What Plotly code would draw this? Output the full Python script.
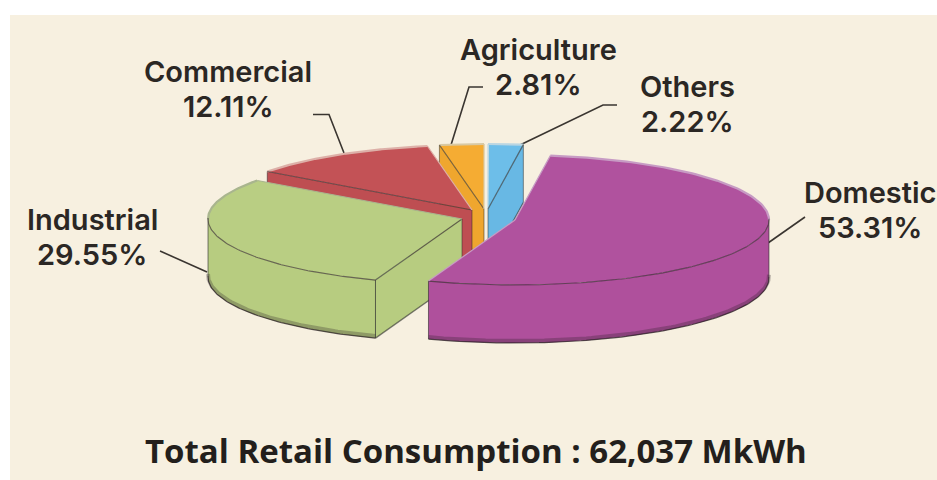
import numpy as np
import plotly.graph_objects as go

# Retail consumption shares, in drawing order around the pie (clockwise)
categories = ["Domestic", "Industrial", "Commercial", "Agriculture", "Others"]
shares = [53.31, 29.55, 12.11, 2.81, 2.22]
share_labels = ["53.31%", "29.55%", "12.11%", "2.81%", "2.22%"]
title_text = "Total Retail Consumption : 62,037 MkWh"

# Styling of each slice
top_colors = ["#B0529E", "#B9CE83", "#C35256", "#F5AC33", "#6DBEE9"]
side_colors = ["#AF509C", "#B7CC80", "#BE4E52", "#EFA62E", "#68B8E4"]
rim_colors = ["#C79BC4", "#A9B58E", "#DDB0A8", "#D8C9A4", "#BBD6E2"]

# Pie projection (an ellipse seen from above), in page pixels
CX, CY, RX, RY, DEPTH = 490, 218, 254, 65, 58
START_DEG = 82
explode = [(25, 2), (-28, 1), (-18, -8), (-6, -9), (-2, -9)]

# Label placement (centre x, centre y of the name line) and leader lines
label_pos = [(870, 192), (92, 219), (228, 71), (538, 49), (687, 86)]
LINE_GAP = 35.5
leaders = [
    [(805, 217), (768, 243)],
    [(160, 251), (207, 272)],
    [(313, 114.5), (329, 114.5), (344, 153)],
    [(483, 87), (469, 87), (451, 145)],
    [(617, 105), (603, 105), (520, 145)],
]

PANEL = "#F7F0E0"
DARK = "#3A3530"
LABEL_FONT = dict(family="Inter, Liberation Sans, sans-serif", size=29, color="#2B2724", weight=600)

fig = go.Figure()


def poly(xs, ys, fill):
    fig.add_trace(go.Scatter(x=xs, y=ys, mode="lines", fill="toself", fillcolor=fill,
                             line=dict(width=0, color=fill), hoverinfo="skip", showlegend=False))


def stroke(xs, ys, color, width):
    fig.add_trace(go.Scatter(x=xs, y=ys, mode="lines", line=dict(color=color, width=width),
                             hoverinfo="skip", showlegend=False))


# Slice angles come directly from the shares
sweeps = np.array(shares) / sum(shares) * 360
ends = START_DEG - np.cumsum(sweeps)
starts = ends + sweeps

for seg in leaders:
    stroke([p[0] for p in seg], [p[1] for p in seg], DARK, 1.6)

# Paint from the back of the pie to the front so nearer slices overlap farther ones
for i in [4, 3, 2, 1, 0]:
    ox, oy = CX + explode[i][0], CY + explode[i][1]
    t = np.radians(np.linspace(starts[i], ends[i], 160))
    ax = ox + RX * np.cos(t)
    ay = oy - RY * np.sin(t)

    # A cut face shows only when it turns towards the viewer
    face_shown = {0: np.cos(t[0]) < -0.02, -1: np.cos(t[-1]) > 0.02}
    for k in (0, -1):
        if face_shown[k]:
            poly([ox, ax[k], ax[k], ox, ox], [oy, ay[k], ay[k] + DEPTH, oy + DEPTH, oy], side_colors[i])
            stroke([ox, ax[k]], [oy + DEPTH, ay[k] + DEPTH], "rgba(40,40,40,0.6)", 1.3)
            stroke([ox, ox], [oy, oy + DEPTH], "rgba(40,40,40,0.5)", 1)
            stroke([ax[k], ax[k]], [ay[k], ay[k] + DEPTH], "rgba(40,40,40,0.5)", 1)

    # Curved outer wall, front half only
    front = np.sin(t) < 0.02
    if front.any():
        fx, fy = ax[front], ay[front]
        poly(np.r_[fx, fx[::-1]], np.r_[fy, fy[::-1] + DEPTH], side_colors[i])
        stroke(fx, fy + DEPTH - 2, "rgba(40,30,35,0.28)", 4)
        stroke(fx, fy + DEPTH, "rgba(40,30,35,0.75)", 1.2)
        for k in (0, -1):
            stroke([fx[k], fx[k]], [fy[k], fy[k] + DEPTH], "rgba(40,40,40,0.6)", 1)

    # Top surface
    poly(np.r_[ox, ax, ox], np.r_[oy, ay, oy], top_colors[i])

    # Rim: pale along the back of the pie, dark along the front
    back = np.sin(t) >= -0.02
    if back.any():
        stroke(ax[back], ay[back], rim_colors[i], 2.2)
    if front.any():
        stroke(ax[front], ay[front], "rgba(50,40,45,0.65)", 1.1)
    for k in (0, -1):
        edge = "rgba(50,50,50,0.65)" if face_shown[k] else rim_colors[i]
        stroke([ox, ax[k]], [oy, ay[k]], edge, 1.2)

for name, pct, (x, y) in zip(categories, share_labels, label_pos):
    for text, ypos in ((name, y), (pct, y + LINE_GAP)):
        fig.add_annotation(x=x, y=ypos, text=text, showarrow=False, xanchor="center",
                           yanchor="middle", font=LABEL_FONT)

fig.add_annotation(x=476, y=450, text=title_text, showarrow=False, xanchor="center", yanchor="middle",
                   font=dict(family="Open Sans, Noto Sans, sans-serif", size=33, color="#231F1C", weight=700))

fig.add_shape(type="rect", x0=10, x1=937, y0=15, y1=480, fillcolor=PANEL, line_width=0, layer="below")

fig.update_layout(
    width=937, height=480, margin=dict(l=0, r=0, t=0, b=0), paper_bgcolor="white", plot_bgcolor="white",
    showlegend=False,
    xaxis=dict(range=[0, 937], visible=False, fixedrange=True),
    yaxis=dict(range=[480, 0], visible=False, fixedrange=True),
)
fig.write_html("out.html", config={"displayModeBar": False})
